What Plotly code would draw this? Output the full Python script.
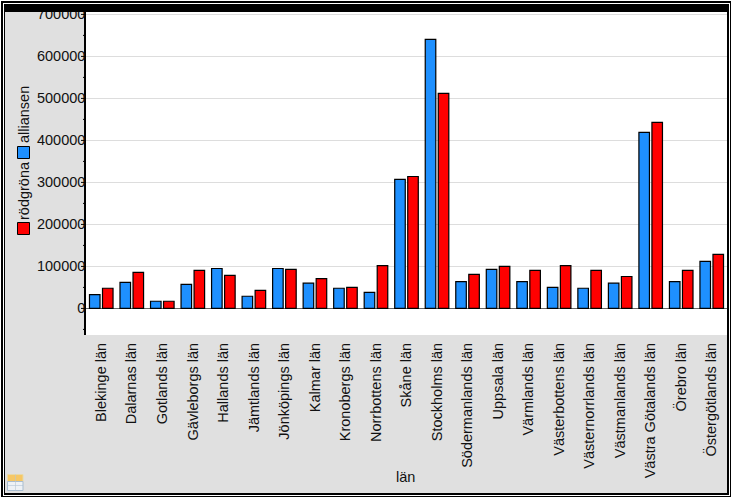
import plotly.graph_objects as go

W, H = 732, 498
L, R, T, B = 86, 5, 12, 163
Y_RANGE = [-63300, 705700]

categories = ["Blekinge län", "Dalarnas län", "Gotlands län", "Gävleborgs län", "Hallands län",
              "Jämtlands län", "Jönköpings län", "Kalmar län", "Kronobergs län", "Norrbottens län",
              "Skåne län", "Stockholms län", "Södermanlands län", "Uppsala län", "Värmlands län",
              "Västerbottens län", "Västernorrlands län", "Västmanlands län", "Västra Götalands län",
              "Örebro län", "Östergötlands län"]
alliansen = [33000, 62000, 17000, 57000, 95000, 29000, 95000, 60000, 48000, 38000, 307000,
             640500, 64000, 93000, 64000, 50000, 48000, 60000, 419000, 64000, 112000]
rodgrona = [48000, 86000, 17000, 90500, 78500, 43000, 93000, 71000, 50000, 102000, 314000,
            512000, 81000, 100000, 90500, 102000, 90500, 76000, 443000, 90500, 128500]
major_ticks = [0, 100000, 200000, 300000, 400000, 500000, 600000, 700000]
minor_ticks = [-50000, 50000, 150000, 250000, 350000, 450000, 550000, 650000]

BLUE, RED, GRAY = "#1e90ff", "#ff0000", "#e0e0e0"
FONT = "Liberation Sans"


def px(x0, y0, x1, y1, fill, layer="below", line=None, lw=0):
    return dict(type="rect", xref="paper", yref="paper", layer=layer,
                x0=(x0 - L) / (W - L - R), x1=(x1 - L) / (W - L - R),
                y0=(H - B - y0) / (H - T - B), y1=(H - B - y1) / (H - T - B),
                fillcolor=fill, line=dict(color=line or fill, width=lw))


def tick(value, length):
    frac = (value - Y_RANGE[0]) / (Y_RANGE[1] - Y_RANGE[0])
    return dict(type="line", xref="paper", yref="paper", layer="above",
                x0=-length / (W - L - R), x1=0, y0=frac, y1=frac,
                line=dict(color="#000", width=1))


def note(x, y, text, angle=0, size=14.5):
    return dict(xref="paper", yref="paper", xanchor="center", yanchor="middle", showarrow=False,
                x=(x - L) / (W - L - R), y=(H - B - y) / (H - T - B),
                text=text, textangle=angle, font=dict(size=size, color="#111", family=FONT))


fig = go.Figure()
fig.add_bar(x=categories, y=alliansen, name="alliansen", marker=dict(color=BLUE, line=dict(color="#000", width=1.2)))
fig.add_bar(x=categories, y=rodgrona, name="rödgröna", marker=dict(color=RED, line=dict(color="#000", width=1.2)))

shapes = [
    px(1, 1, 731, 497, "#000"),
    px(3, 3, 730, 496, "#fff"),
    px(4, 4, 729, 495, "#000"),
    px(5, 12, 727, 493, GRAY),
    px(L, T, W - R, H - B, "#fff"),
    # legend swatches
    px(17.5, 146.5, 29.5, 158.5, BLUE, line="#000", lw=1),
    px(17.5, 222.5, 29.5, 234.5, RED, line="#000", lw=1),
    # table icon
    px(7.5, 474.5, 23, 481.5, "#f6c765", line="#e8d9a8", lw=1),
    px(7.5, 481.5, 23, 490.5, "#eef2f6", line="#a9bdd0", lw=1),
    px(7.5, 485.5, 23, 486, "#a9bdd0"),
    px(15, 474.5, 15.6, 490.5, "#b9c6d2"),
]
shapes += [tick(v, 5) for v in major_ticks] + [tick(v, 3) for v in minor_ticks]
# top band covers the clipped upper tick label
shapes.append(px(4, 4, 729, 12, "#000", layer="above"))

fig.update_layout(
    width=W, height=H, margin=dict(l=L, r=R, t=T, b=B, pad=0), barmode="group",
    bargap=0.147, bargroupgap=0.19, paper_bgcolor="#fff", plot_bgcolor="#fff", showlegend=False,
    font=dict(family=FONT, size=14.5, color="#111"), shapes=shapes,
    annotations=[note(24, 115, "alliansen", -90), note(24, 191, "rödgröna", -90), note(405, 477, "län")],
    xaxis=dict(type="category", tickangle=-90, ticks="", showgrid=False, showline=False,
               ticklabelstandoff=4, automargin=False, tickfont=dict(size=14.5, family=FONT, color="#111")),
    yaxis=dict(range=Y_RANGE, tickmode="array", tickvals=major_ticks,
               ticktext=[str(v) for v in major_ticks], ticks="", showline=True, linecolor="#000",
               linewidth=1.5, gridcolor="#dddddd", gridwidth=1, zeroline=True, zerolinecolor="#666666",
               zerolinewidth=1, automargin=False, ticklabelstandoff=-4,
               tickfont=dict(size=14.5, family=FONT, color="#111")),
)
fig.write_html("out.html", config={"displayModeBar": False},
               post_script="document.body.style.margin='0';document.body.style.overflow='hidden';")
